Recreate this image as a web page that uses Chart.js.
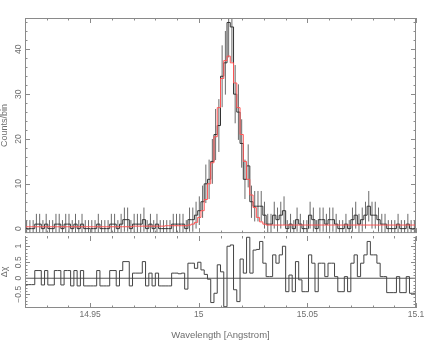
<!DOCTYPE html>
<html>
<head>
<meta charset="utf-8">
<script src="https://cdn.jsdelivr.net/npm/chart.js@4.4.1/dist/chart.umd.min.js"></script>
<style>
  html, body { margin: 0; padding: 0; background: #fff; }
  #wrap { position: relative; width: 436px; height: 340px; }
  #spec { position: absolute; left: 0; top: 0; }
  #resid { position: absolute; left: 0; top: 230px; }
</style>
</head>
<body>
<div id="wrap">
  <canvas id="spec" width="436" height="240"></canvas>
  <canvas id="resid" width="436" height="110"></canvas>
</div>
<script>
'use strict';
// бины по длине волны (Å)
const wlStart = 14.92;
const binWidth = 0.0015;
const wlMin = 14.92, wlMax = 15.1;

// отсчёты в бине
const counts = [
  0, 0, 0, 1, 1, 0, 1, 0, 0, 1,
  1, 0, 1, 1, 0, 1, 0, 1, 0, 0,
  0, 0, 1, 0, 0, 0, 1, 1, 0, 1,
  2, 2, 0, 1, 1, 1, 2, 0, 1, 0,
  1, 0, 0, 0, 0, 1, 1, 1, 1, 0,
  2, 2, 3, 4, 6, 10, 11, 15, 21, 23,
  34, 37, 46, 45, 30, 26, 19, 11, 14, 6,
  5, 5, 5, 3, 1, 1, 3, 2, 3, 4,
  0, 1, 0, 2, 1, 0, 0, 3, 2, 0,
  2, 2, 1, 2, 2, 1, 0, 0, 1, 0,
  2, 3, 1, 2, 3, 5, 3, 3, 2, 1,
  1, 0, 0, 0, 1, 0, 0, 1, 0, 0
];
// полуширина планки ошибок
const countErrors = [
  1.9, 1.9, 1.9, 2.3, 2.3, 1.9, 2.3, 1.9, 1.9, 2.3,
  2.3, 1.9, 2.3, 2.3, 1.9, 2.3, 1.9, 2.3, 1.9, 1.9,
  1.9, 1.9, 2.3, 1.9, 1.9, 1.9, 2.3, 2.3, 1.9, 2.3,
  2.7, 2.7, 1.9, 2.3, 2.3, 2.3, 2.7, 1.9, 2.3, 1.9,
  2.3, 1.9, 1.9, 1.9, 1.9, 2.3, 2.3, 2.3, 2.3, 1.9,
  2.7, 2.7, 3.0, 3.2, 3.6, 4.3, 4.4, 5.0, 5.7, 5.9,
  6.9, 7.1, 7.8, 7.8, 6.5, 6.2, 5.4, 4.4, 4.8, 3.6,
  3.4, 3.4, 3.4, 3.0, 2.3, 2.3, 3.0, 2.7, 3.0, 3.2,
  1.9, 2.3, 1.9, 2.7, 2.3, 1.9, 1.9, 3.0, 2.7, 1.9,
  2.7, 2.7, 2.3, 2.7, 2.7, 2.3, 1.9, 1.9, 2.3, 1.9,
  2.7, 3.0, 2.3, 2.7, 3.0, 3.4, 3.0, 3.0, 2.7, 2.3,
  2.3, 1.9, 1.9, 1.9, 2.3, 1.9, 1.9, 2.3, 1.9, 1.9
];
// модель (красная)
const model = [
  0.42, 0.42, 0.42, 0.42, 0.42, 0.42, 0.42, 0.42, 0.42, 0.42,
  0.42, 0.42, 0.42, 0.42, 0.42, 0.42, 0.42, 0.42, 0.42, 0.42,
  0.42, 0.42, 0.42, 0.42, 0.42, 0.42, 0.42, 0.42, 0.42, 0.42,
  0.42, 0.42, 0.42, 0.55, 0.55, 0.55, 0.55, 0.55, 0.55, 0.55,
  0.55, 0.55, 0.55, 0.65, 0.65, 0.65, 0.65, 0.65, 0.65, 0.65,
  0.8, 1.0, 1.4, 2.5, 4, 6.5, 10, 14.7, 20.5, 27,
  33.5, 37.5, 38.5, 37, 32.5, 27, 21, 15, 11, 7.5,
  4.7, 2.5, 1.5, 1.0, 0.8, 0.8, 0.8, 0.8, 0.8, 0.8,
  0.8, 0.8, 0.8, 0.8, 0.8, 0.8, 0.8, 0.8, 0.8, 0.8,
  0.8, 0.8, 0.8, 0.8, 0.8, 0.8, 0.8, 0.8, 0.8, 0.8,
  0.8, 0.8, 0.8, 0.8, 0.8, 0.8, 0.8, 0.8, 0.8, 0.8,
  0.8, 0.8, 0.8, 0.8, 0.8, 0.8, 0.8, 0.8, 0.8, 0.8
];
// остатки Δχ
const residuals = [
  -0.2, -0.2, -0.2, 0.24, 0.24, -0.21, 0.24, -0.21, -0.21, 0.24,
  0.24, -0.21, 0.24, 0.24, -0.24, 0.24, -0.24, 0.24, -0.24, -0.24,
  -0.24, -0.24, 0.24, -0.24, -0.24, -0.24, 0.24, 0.24, -0.24, 0.24,
  0.52, 0.52, -0.24, 0.16, 0.16, 0.16, 0.52, -0.24, 0.16, -0.24,
  0.16, -0.24, -0.24, -0.24, -0.24, 0.16, 0.16, 0.14, 0.16, -0.34,
  0.47, 0.47, 0.31, 0.5, 0.26, 0.12, -0.03, -0.76, -0.47, 0.42,
  0.2, -0.89, 1.0, 1.04, -0.36, -0.73, 0.6, 0.16, 1.28, 0.16,
  0.88, 0.9, 1.15, 0.47, 0.05, 0.05, 0.73, 0.47, 0.73, 1.0,
  -0.42, 0.1, -0.42, 0.52, -0.05, -0.42, -0.42, 0.73, 0.47, -0.42,
  0.47, 0.47, 0.05, 0.47, 0.47, 0.05, -0.42, -0.42, 0.05, -0.42,
  0.47, 0.73, 0.05, 0.47, 0.73, 1.15, 0.73, 0.73, 0.47, 0.05,
  0.05, -0.45, -0.45, -0.45, 0.05, -0.45, -0.45, 0.05, -0.47, -0.47
];

const xTickLabels = ['14.95', '15', '15.05', '15.1'];
const countTickLabels = ['0', '10', '20', '30', '40'];
const residTickLabels = ['−0.5', '0', '0.5', '1'];

const fontFamily = '"Liberation Sans", Arial, sans-serif';
const textColor = '#6e6e6e';

// гистограмма: точки по левым краям бинов + правый край последнего
function histPoints(values) {
  const pts = values.map((v, i) => ({x: wlStart + i * binWidth, y: v}));
  pts.push({x: wlStart + values.length * binWidth, y: values[values.length - 1]});
  return pts;
}

function errorBarPoints(values, errs) {
  const pts = [];
  values.forEach((v, i) => {
    const c = wlStart + (i + 0.5) * binWidth;
    pts.push({x: c, y: v - errs[i]}, {x: c, y: v + errs[i]}, {x: c, y: null});
  });
  return pts;
}

// рамка с засечками внутрь, как в PGPLOT
const boxTicks = {
  id: 'boxTicks',
  afterDraw(chart, args, opts) {
    const {ctx, chartArea: a} = chart;
    const xs = chart.scales.x, ys = chart.scales.y;
    ctx.save();
    ctx.strokeStyle = opts.color;
    ctx.lineWidth = 1;
    ctx.beginPath();
    const kx0 = Math.ceil(xs.min / opts.xMinor - 1e-6), kx1 = Math.floor(xs.max / opts.xMinor + 1e-6);
    for (let k = kx0; k <= kx1; k++) {
      const px = Math.round(xs.getPixelForValue(k * opts.xMinor)) + 0.5;
      const len = k % opts.xMajor === 0 ? opts.major : opts.minor;
      ctx.moveTo(px, a.bottom); ctx.lineTo(px, a.bottom - len);
      ctx.moveTo(px, a.top); ctx.lineTo(px, a.top + len);
    }
    const ky0 = Math.ceil(ys.min / opts.yMinor - 1e-6), ky1 = Math.floor(ys.max / opts.yMinor + 1e-6);
    for (let k = ky0; k <= ky1; k++) {
      const py = Math.round(ys.getPixelForValue(k * opts.yMinor)) + 0.5;
      const len = k % opts.yMajor === 0 ? opts.major : opts.minor;
      ctx.moveTo(a.left, py); ctx.lineTo(a.left + len, py);
      ctx.moveTo(a.right, py); ctx.lineTo(a.right - len, py);
    }
    // края рамки
    ctx.moveTo(a.left + 0.5, a.top + 0.5); ctx.lineTo(a.left + 0.5, a.bottom - 0.5);
    ctx.moveTo(a.right - 0.5, a.top + 0.5); ctx.lineTo(a.right - 0.5, a.bottom - 0.5);
    ctx.moveTo(a.left, a.bottom - 0.5); ctx.lineTo(a.right, a.bottom - 0.5);
    if (opts.drawTop) { ctx.moveTo(a.left, a.top + 0.5); ctx.lineTo(a.right, a.top + 0.5); }
    ctx.stroke();
    ctx.restore();
  }
};

function lineSet(data, color, order, extra) {
  return Object.assign({
    data: data, borderColor: color, borderWidth: 1, pointRadius: 0,
    tension: 0, fill: false, order: order
  }, extra || {});
}

// верхняя панель: спектр
new Chart(document.getElementById('spec').getContext('2d'), {
  type: 'line',
  data: {
    datasets: [
      lineSet(histPoints(model), 'rgb(255, 85, 85)', 0, {stepped: 'before'}),
      lineSet(histPoints(counts), '#333', 1, {stepped: 'before'}),
      lineSet(errorBarPoints(counts, countErrors), '#6a6a6a', 2, {spanGaps: false})
    ]
  },
  options: {
    responsive: false,
    animation: false,
    devicePixelRatio: 1,
    layout: {padding: {top: 18, right: 20, bottom: 4, left: 0}},
    plugins: {
      legend: {display: false},
      tooltip: {enabled: false},
      boxTicks: {color: '#8a8a8a', xMinor: 0.01, xMajor: 5, yMinor: 2, yMajor: 5, major: 5, minor: 2.5, drawTop: true}
    },
    scales: {
      x: {type: 'linear', min: wlMin, max: wlMax, display: false},
      y: {
        type: 'linear', min: -1, max: 47,
        afterFit(s) { s.width = 25; },
        grid: {display: false, drawTicks: false},
        border: {display: false},
        ticks: {
          stepSize: 10, includeBounds: false, autoSkip: false,
          minRotation: 90, maxRotation: 90, crossAlign: 'center', padding: 1.8,
          color: textColor, font: {family: fontFamily, size: 8.5},
          callback: (v) => countTickLabels[Math.round(v / 10)]
        },
        title: {display: true, text: 'Counts/bin', color: textColor,
          font: {family: fontFamily, size: 9, lineHeight: 1}, padding: 0}
      }
    }
  },
  plugins: [boxTicks]
});

// нижняя панель: остатки
new Chart(document.getElementById('resid').getContext('2d'), {
  type: 'line',
  data: {
    datasets: [
      lineSet(histPoints(residuals), '#444', 0, {stepped: 'before'}),
      lineSet([{x: wlMin, y: 0}, {x: wlMax, y: 0}], '#555', 1)
    ]
  },
  options: {
    responsive: false,
    animation: false,
    devicePixelRatio: 1,
    layout: {padding: {top: 6, right: 20, bottom: 0, left: 0}},
    plugins: {
      legend: {display: false},
      tooltip: {enabled: false},
      boxTicks: {color: '#8a8a8a', xMinor: 0.01, xMajor: 5, yMinor: 0.1, yMajor: 5, major: 5, minor: 2.5, drawTop: false}
    },
    scales: {
      x: {
        type: 'linear', min: wlMin, max: wlMax,
        afterFit(s) { s.height = 32; },
        grid: {display: false, drawTicks: false},
        border: {display: false},
        ticks: {
          stepSize: 0.05, includeBounds: false, autoSkip: false, maxRotation: 0, padding: 2,
          color: textColor, font: {family: fontFamily, size: 8.5},
          callback: (v) => xTickLabels[Math.round((v - 14.95) / 0.05)]
        },
        title: {display: true, text: 'Wavelength [Angstrom]', color: textColor,
          font: {family: fontFamily, size: 9.5, lineHeight: 1}, padding: 0}
      },
      y: {
        type: 'linear', min: -0.93, max: 1.32,
        afterFit(s) { s.width = 25; },
        grid: {display: false, drawTicks: false},
        border: {display: false},
        ticks: {
          stepSize: 0.5, includeBounds: false, autoSkip: false,
          minRotation: 90, maxRotation: 90, crossAlign: 'center', padding: -1.9,
          color: textColor, font: {family: fontFamily, size: 8.5},
          callback: (v) => residTickLabels[Math.round(v / 0.5) + 1]
        },
        title: {display: true, text: 'Δχ', color: textColor,
          font: {family: fontFamily, size: 9, lineHeight: 1}, padding: 0}
      }
    }
  },
  plugins: [boxTicks]
});
</script>
</body>
</html>
